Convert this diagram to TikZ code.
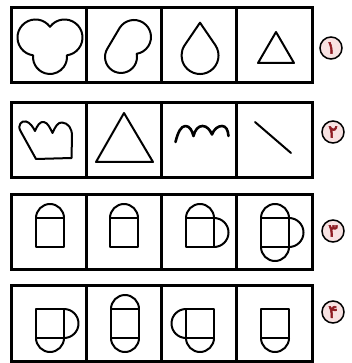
\documentclass[tikz,border=0pt]{standalone}
\usepackage{fontspec}
\newfontfamily\numfont[Script=Arabic,FakeBold=3]{DejaVu Sans}
\definecolor{numred}{HTML}{8E1B22}
\definecolor{numfill}{HTML}{F8E2E2}
\begin{document}
\begin{tikzpicture}[x=1pt,y=-1pt,
  cell/.style={draw, line width=3pt, outer sep=0pt, inner sep=0pt, minimum width=75.25pt},
  fig/.style={draw, line width=2pt, line join=round, line cap=round},
  numc/.style={circle, draw, line width=1.5pt, fill=numfill, minimum size=22pt, inner sep=0pt, text=numred, font=\numfont\fontsize{18}{18}\selectfont}]
\useasboundingbox (0,0) rectangle (352,363);
% cells
\foreach \r/\yt/\h in {1/8/75,2/103/74,3/194/75,4/285/76}{
  \foreach \c in {1,...,4}{
    \pgfmathsetmacro\xl{11+75.25*(\c-1)}
    \node[cell, minimum height=\h pt, anchor=north west] (c\r\c) at (\xl,\yt) {};
  }
}
% row 1
\draw[fig] (50,26.83) arc[start angle=-36.3,end angle=-262.3,radius=18]
  arc[start angle=185.6,end angle=-5.6,radius=17]
  arc[start angle=82.3,end angle=-143.7,radius=18] -- cycle;
\draw[fig] (119.74,27.74) arc[start angle=-147,end angle=80.9,radius=17]
  arc[start angle=-11.5,end angle=213,radius=16] -- cycle;
\draw[fig] (200,22.7) -- (215.3,45.1) arc[start angle=-34.3,end angle=214.3,radius=18.5] -- cycle;
\draw[fig] (276,32) -- (294,63) -- (258,63) -- cycle;
% row 2
\draw[fig] (36,159) -- (20.5,131) .. controls (17,125) and (22,120) .. (26,121.5)
  .. controls (30,122.5) and (33,127) .. (35,131)
  .. controls (37,126) and (40,121) .. (44,122)
  .. controls (48,123) and (50,128) .. (52.5,133)
  .. controls (55,127) and (58,122) .. (62,122.5)
  .. controls (68,123) and (72,128) .. (72,136) -- (71.5,158) -- cycle;
\draw[fig] (124,113) -- (153,162) -- (96,162) -- cycle;
\draw[fig, line width=2.6pt] (175.5,142) .. controls (178,132) and (181,126) .. (185.5,126)
  .. controls (190,126) and (192,131) .. (193.5,136)
  .. controls (195,130) and (198,126) .. (202.5,126)
  .. controls (207,126) and (210,130) .. (212,134.5)
  .. controls (214,129) and (218,126) .. (222,126)
  .. controls (226,126) and (228,130) .. (228.5,136);
\draw[fig] (255,122) -- (291,153);
% row 3
\draw[fig] (36,218) rectangle (64,247);
\draw[fig] (36,218) arc[start angle=180,end angle=360,radius=14];
\draw[fig] (110,218) rectangle (138,247);
\draw[fig] (110,218) arc[start angle=180,end angle=360,radius=14];
\draw[fig] (186,218) rectangle (214,247);
\draw[fig] (186,218) arc[start angle=180,end angle=360,radius=14];
\draw[fig] (214,218) arc[start angle=-90,end angle=90,radius=14.5];
\draw[fig] (261,218) rectangle (289,247);
\draw[fig] (261,218) arc[start angle=180,end angle=360,radius=14];
\draw[fig] (289,218) arc[start angle=-90,end angle=90,radius=14.5];
\draw[fig] (289,247) arc[start angle=0,end angle=180,radius=14];
% row 4
\draw[fig] (36,309) rectangle (64,338);
\draw[fig] (64,309) arc[start angle=-90,end angle=90,radius=14.5];
\draw[fig] (64,338) arc[start angle=0,end angle=180,radius=14];
\draw[fig] (111,309) rectangle (139,338);
\draw[fig] (111,309) arc[start angle=180,end angle=360,radius=14];
\draw[fig] (139,338) arc[start angle=0,end angle=180,radius=14];
\draw[fig] (186,309) rectangle (214,338);
\draw[fig] (186,338) arc[start angle=90,end angle=270,radius=14.5];
\draw[fig] (214,338) arc[start angle=0,end angle=180,radius=14];
\draw[fig] (261,309) rectangle (289,338);
\draw[fig] (289,338) arc[start angle=0,end angle=180,radius=14];
% numbers
\node[numc] (n1) at (331,48) {۱};
\node[numc] (n2) at (333,132) {۲};
\node[numc] (n3) at (333,231) {۳};
\node[numc] (n4) at (333,312) {۴};
\end{tikzpicture}
\end{document}
